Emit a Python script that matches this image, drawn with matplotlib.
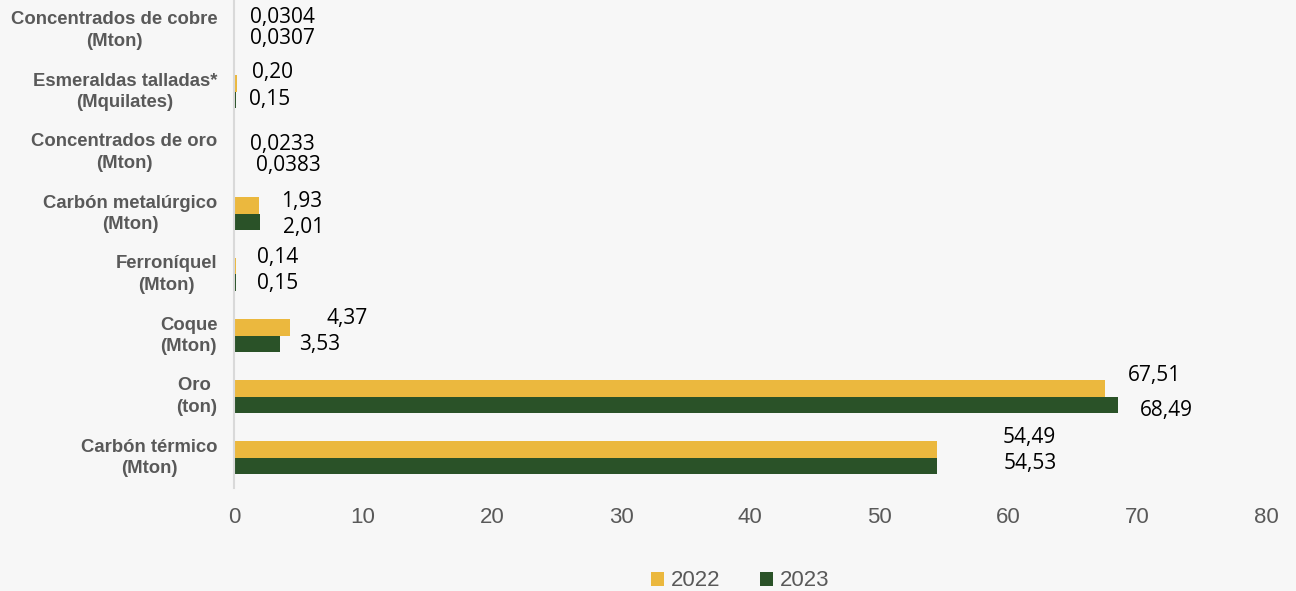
import numpy as np
import matplotlib.pyplot as plt
import matplotlib.transforms as mtransforms

categories = ["Carbón térmico\n(Mton)", "Oro \n(ton)", "Coque\n(Mton)", "Ferroníquel\n(Mton)",
              "Carbón metalúrgico\n(Mton)", "Concentrados de oro\n(Mton)",
              "Esmeraldas talladas*\n(Mquilates)", "Concentrados de cobre\n(Mton)"]
values_2022 = [54.49, 67.51, 4.37, 0.14, 1.93, 0.0233, 0.20, 0.0304]
values_2023 = [54.53, 68.49, 3.53, 0.15, 2.01, 0.0383, 0.15, 0.0307]
labels_2022 = ["54,49", "67,51", "4,37", "0,14", "1,93", "0,0233", "0,20", "0,0304"]
labels_2023 = ["54,53", "68,49", "3,53", "0,15", "2,01", "0,0383", "0,15", "0,0307"]

# label offsets in pixels (hand-placed in the original)
dx_2022 = [66, 23, 36, 21, 22, 16, 15, 16]
dy_2022 = [12, 13, 9, 9, 4, 0, 11, 5]
dx_2023 = [66, 22, 20, 21, 23, 22, 13, 16]
dy_2023 = [2, -6, -1, -1, -6, -5, 0, 0]

yellow = "#EBB83E"
green = "#2A5228"
bg = "#F7F7F7"
grey = "#595959"

fig = plt.figure(figsize=(12.96, 5.91), dpi=100, facecolor=bg)
ax = fig.add_axes([234 / 1296, 103 / 591, 1032 / 1296, 488 / 591])
ax.set_facecolor(bg)

y = np.arange(len(categories))
h = 0.27
b1 = ax.barh(y + h / 2, values_2022, height=h, color=yellow, label="2022")
b2 = ax.barh(y - h / 2, values_2023, height=h, color=green, label="2023")

for rect, lab, dx, dy in zip(b1, labels_2022, dx_2022, dy_2022):
    ax.annotate(lab, (rect.get_width(), rect.get_y() + rect.get_height() / 2),
                xytext=(dx, dy), textcoords="offset pixels", ha="left", va="center",
                fontsize=15, family="Open Sans", color="black")
for rect, lab, dx, dy in zip(b2, labels_2023, dx_2023, dy_2023):
    ax.annotate(lab, (rect.get_width(), rect.get_y() + rect.get_height() / 2),
                xytext=(dx, dy), textcoords="offset pixels", ha="left", va="center",
                fontsize=15, family="Open Sans", color="black")

ax.set_xlim(0, 80)
ax.set_ylim(-0.5, len(categories) - 0.5)
ax.set_xticks(np.arange(0, 81, 10))
ax.set_yticks(y)
ax.set_yticklabels(categories, fontsize=13.3, fontweight="bold", color=grey,
                   family="Liberation Sans", multialignment="center", linespacing=1.38)
ax.tick_params(axis="x", length=0, pad=14, labelsize=16, labelcolor=grey)
ax.tick_params(axis="y", length=0, pad=12)
for lab in ax.get_xticklabels():
    lab.set_family("Liberation Sans")

# nudge category labels up a little
shift = mtransforms.ScaledTranslation(0, 4 / 100, fig.dpi_scale_trans)
for lab in ax.get_yticklabels():
    lab.set_transform(lab.get_transform() + shift)

for s in ["top", "right", "bottom"]:
    ax.spines[s].set_visible(False)
ax.spines["left"].set_color("#D9D9D9")
ax.spines["left"].set_linewidth(1.5)

fig.legend(handles=[b1, b2], labels=["2022", "2023"], loc="center",
           bbox_to_anchor=(740 / 1296, 10 / 591), ncol=2, frameon=False,
           prop={"family": "Liberation Sans", "size": 16}, labelcolor=grey,
           handlelength=0.6, handleheight=0.6, handletextpad=0.3, columnspacing=1.8)

fig.savefig("out.png", dpi=100, facecolor=bg)
